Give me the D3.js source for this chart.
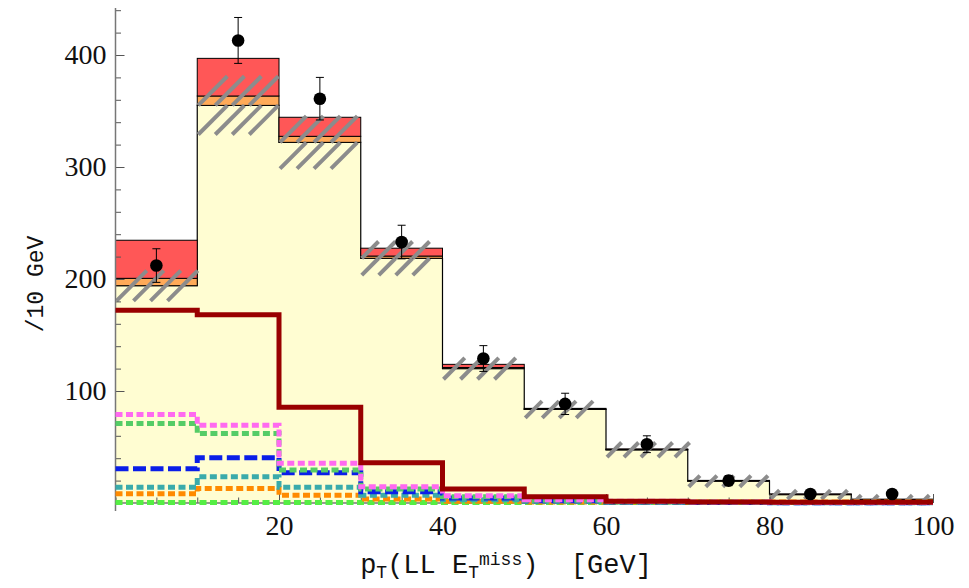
<!DOCTYPE html>
<html>
<head>
<meta charset="utf-8">
<script src="https://cdn.jsdelivr.net/npm/d3@7"></script>
<style>
  body { margin: 0; background: #fff; }
</style>
</head>
<body>
<svg id="chart" width="969" height="588"></svg>
<script>
// bins of 10 GeV, lower edges
const binEdges = [0, 10, 20, 30, 40, 50, 60, 70, 80, 90];
const binWidth = 10;

// stacked backgrounds
const bgYellow = [194, 355, 322, 218.5, 120, 83.5, 47.5, 19.5, 7.5, 3];
const bgOrange = [6.6, 8.4, 5.4, 2, 1, 0.4, 0.3, 0.3, 0.3, 0.2];
const bgRed = [34, 33.6, 17, 7, 2.8, 0.6, 0.5, 0.4, 0.3, 0.2];
// hatched uncertainty band around the yellow top
const bandErr = [13.5, 26, 23.5, 15, 9.5, 7.5, 6.5, 5, 4, 4];

// data points
const dataVal = [212, 413, 361, 233, 129, 88.5, 52.5, 20, 8, 8];
const dataErr = [15, 20.5, 19, 15, 11.5, 9.5, 7.5, 4.5, 3, 3];

// overlaid step lines
const lineDarkRed = [172, 168, 85.5, 36, 12.5, 5.5, 1.5, 0.8, 0.6, 0.6];
const lineMagenta = [79, 69.5, 35.5, 14.5, 6.5, 3, 1.5, 1, 0.5, 0.5];
const lineGreen = [71, 62, 29.5, 12.5, 5.5, 2.5, 1.2, 0.8, 0.5, 0.5];
const lineBlue = [30.5, 40.5, 27, 10, 4.5, 2, 1, 0.5, 0.3, 0.3];
const lineTeal = [14, 23.5, 14, 7, 3, 1.5, 0.8, 0.5, 0.3, 0.3];
const lineOrange = [8.3, 13, 7, 3.5, 1.5, 1, 0.8, 0.8, 0.8, 0.8];
const lineLightGreen = [0.5, 0.5, 0.5, 0.5, 0.5, 0.5, 0.5, 0.5, 0.5, 0.5];

const xMajorTicks = [20, 40, 60, 80, 100];
const yMajorTicks = [100, 200, 300, 400];

const svg = d3.select('#chart');

const x = d3.scaleLinear().domain([0, 100]).range([115.5, 933]);
const y = d3.scaleLinear().domain([0, 440]).range([503, 10.2]);

const stepPts = arr => arr.map((v, i) => [binEdges[i], v]).concat([[100, arr[arr.length - 1]]]);

const area = d3.area()
  .x(d => x(d[0]))
  .y0(y(0))
  .y1(d => y(d[1]))
  .curve(d3.curveStepAfter);
const line = d3.line()
  .x(d => x(d[0]))
  .y(d => y(d[1]))
  .curve(d3.curveStepAfter);

// yellow area
svg.append('path')
  .attr('d', area(stepPts(bgYellow)))
  .attr('fill', '#fffdd2');

svg.append('path')
  .attr('d', line(stepPts(bgYellow)) + `L${x(100)},${y(0)}`)
  .attr('fill', 'none')
  .attr('stroke', '#000')
  .attr('stroke-width', 1.2);

// orange & red stacked pieces
svg.append('g').selectAll('rect')
  .data(binEdges)
  .enter().append('rect')
  .attr('x', d => x(d))
  .attr('width', d => x(d + binWidth) - x(d))
  .attr('y', (d, i) => y(bgYellow[i] + bgOrange[i]))
  .attr('height', (d, i) => y(bgYellow[i]) - y(bgYellow[i] + bgOrange[i]))
  .attr('fill', '#ffaa58')
  .attr('stroke', '#000')
  .attr('stroke-width', 1);

svg.append('g').selectAll('rect')
  .data(binEdges)
  .enter().append('rect')
  .attr('x', d => x(d))
  .attr('width', d => x(d + binWidth) - x(d))
  .attr('y', (d, i) => y(bgYellow[i] + bgOrange[i] + bgRed[i]))
  .attr('height', (d, i) => y(bgYellow[i] + bgOrange[i]) - y(bgYellow[i] + bgOrange[i] + bgRed[i]))
  .attr('fill', '#ff5757')
  .attr('stroke', '#000')
  .attr('stroke-width', 1);

// hatched band: rows of short slashes
const slashStep = 17;
const slashes = [];
binEdges.forEach((b, i) => {
  const top = y(bgYellow[i] + bandErr[i]);
  const bot = y(bgYellow[i] - bandErr[i]);
  const rows = (bot - top) > 32 ? [[top, (top + bot) / 2], [(top + bot) / 2, bot]] : [[top, bot]];
  rows.forEach(([t, bt]) => {
    const h = bt - t;
    for (let xs = x(b) + 1; xs + h <= x(b + binWidth) + 2; xs += slashStep) {
      slashes.push([xs, bt, xs + h, t]);
    }
  });
});
svg.append('g').selectAll('line')
  .data(slashes)
  .enter().append('line')
  .attr('x1', d => d[0]).attr('y1', d => d[1])
  .attr('x2', d => d[2]).attr('y2', d => d[3])
  .attr('stroke', '#8c8c8c')
  .attr('stroke-width', 4);

// axes
const axisColor = '#555';
const yMinor = svg.append('g')
  .attr('transform', `translate(${x(0)},0)`)
  .call(d3.axisLeft(y).tickValues(d3.range(0, 441, 20)).tickSize(-5.5).tickFormat(''));
const yMajor = svg.append('g')
  .attr('transform', `translate(${x(0)},0)`)
  .call(d3.axisLeft(y).tickValues(yMajorTicks).tickSizeInner(-9).tickSizeOuter(0).tickPadding(9));
const xMinor = svg.append('g')
  .attr('transform', `translate(0,${y(0)})`)
  .call(d3.axisBottom(x).tickValues(d3.range(0, 101, 5)).tickSize(-5.5).tickFormat(''));
const xMajor = svg.append('g')
  .attr('transform', `translate(0,${y(0)})`)
  .call(d3.axisBottom(x).tickValues(xMajorTicks).tickSizeInner(-9).tickSizeOuter(0).tickPadding(12));

[yMinor, yMajor, xMinor, xMajor].forEach(g => {
  g.select('.domain').remove();
  g.selectAll('.tick line').attr('stroke', axisColor).attr('stroke-width', 1);
  g.selectAll('.tick text')
    .attr('font-family', 'Liberation Serif, Times New Roman, serif')
    .attr('font-size', 28)
    .attr('fill', '#111');
});

svg.append('line')
  .attr('x1', x(0)).attr('x2', x(0))
  .attr('y1', y(0) + 8).attr('y2', 8)
  .attr('stroke', '#777').attr('stroke-width', 1.5);
svg.append('line')
  .attr('x1', x(0)).attr('x2', x(100))
  .attr('y1', y(0)).attr('y2', y(0))
  .attr('stroke', '#777').attr('stroke-width', 1.5);

// step lines
const series = [
  { vals: lineLightGreen, color: '#55ee44', dash: '7,3.5' },
  { vals: lineOrange, color: '#ff8a00', dash: '7,3.5' },
  { vals: lineTeal, color: '#3aabab', dash: '7,3.5' },
  { vals: lineBlue, color: '#0a1ee8', dash: '13,4.5' },
  { vals: lineGreen, color: '#55cc66', dash: '7,3.5' },
  { vals: lineMagenta, color: '#ff6af0', dash: '7,3.5' },
  { vals: lineDarkRed, color: '#990000', dash: null }
];
svg.append('g').selectAll('path')
  .data(series)
  .enter().append('path')
  .attr('d', d => line(stepPts(d.vals)))
  .attr('fill', 'none')
  .attr('stroke', d => d.color)
  .attr('stroke-width', 5)
  .attr('stroke-dasharray', d => d.dash);

// data points with error bars
const pts = svg.append('g');
const cx = i => x(binEdges[i] + binWidth / 2);
pts.selectAll('.err')
  .data(dataVal)
  .enter().append('path')
  .attr('d', (d, i) => `M${cx(i)},${y(d - dataErr[i])}V${y(d + dataErr[i])}` +
    `M${cx(i) - 4},${y(d + dataErr[i])}h8M${cx(i) - 4},${y(d - dataErr[i])}h8`)
  .attr('stroke', '#000')
  .attr('stroke-width', 1)
  .attr('fill', 'none');
pts.selectAll('circle')
  .data(dataVal)
  .enter().append('circle')
  .attr('cx', (d, i) => cx(i))
  .attr('cy', d => y(d))
  .attr('r', 6.3)
  .attr('fill', '#000');

// axis titles
svg.append('text')
  .attr('transform', 'translate(43,284) rotate(-90)')
  .attr('text-anchor', 'middle')
  .attr('font-family', 'Liberation Mono, Courier New, monospace')
  .attr('font-size', 23)
  .attr('fill', '#111')
  .text('/10 GeV');

const xt = svg.append('text')
  .attr('x', 506).attr('y', 573)
  .attr('text-anchor', 'middle')
  .attr('font-family', 'Liberation Mono, Courier New, monospace')
  .attr('font-size', 27)
  .attr('fill', '#111');
xt.append('tspan').text('p');
xt.append('tspan').attr('dy', 5).attr('font-size', 18).text('T');
xt.append('tspan').attr('dy', -5).text('(LL E');
xt.append('tspan').attr('dy', 5).attr('font-size', 18).text('T');
xt.append('tspan').attr('dy', -13).attr('font-size', 18).text('miss');
xt.append('tspan').attr('dy', 8).attr('xml:space', 'preserve').text(')  [GeV]');
</script>
</body>
</html>
